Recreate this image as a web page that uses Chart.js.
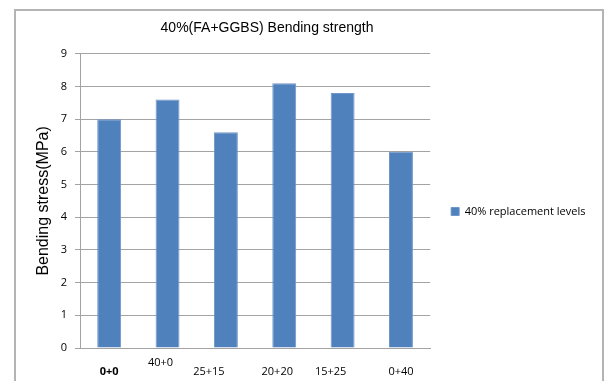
<!DOCTYPE html>
<html>
<head>
<meta charset="utf-8">
<script src="https://cdn.jsdelivr.net/npm/chart.js@4.4.1/dist/chart.umd.min.js"></script>
<style>
  html, body { margin: 0; padding: 0; background: #fff; overflow: hidden; }
  #wrap { position: relative; width: 604px; height: 381px; }
  #frame {
    position: absolute; left: 14px; top: 9px; width: 586px; height: 400px;
    border: 2px solid #b4b4b4; pointer-events: none;
  }
</style>
</head>
<body>
<div id="wrap">
  <canvas id="bendChart" width="604" height="381"></canvas>
  <div id="frame"></div>
</div>
<script>
// FA + GGBS mix proportions (%) and bending strength results
const mixes = ['0+0', '40+0', '25+15', '20+20', '15+25', '0+40'];
const bendingStress = [7.0, 7.6, 6.6, 8.1, 7.8, 6.0];
const yTicks = [0, 1, 2, 3, 4, 5, 6, 7, 8, 9];
const seriesName = '40% replacement levels';

// small nudges for the category labels (dx, dy)
const labelNudge = [[0, 0], [-7, -9], [-17, 0], [-7, 0], [-12, 0], [0, 0]];

const gridGray = '#a3a3a3';
const smallFont = '"Open Sans"';
const legendPad = 21;

// legend width decides where the plot ends, so measure the label first
const meas = document.createElement('canvas').getContext('2d');
meas.font = '11px ' + smallFont;
const legendW = legendPad + 8 + 5.5 + meas.measureText(seriesName).width;
const padRight = 166 - legendW;      // plot right edge lands at 431
const padLeft = padRight - 70;       // keeps the title a bit right of centre

// category labels drawn under the axis
const mixLabels = {
  id: 'mixLabels',
  afterDraw(chart) {
    const ctx = chart.ctx;
    const x = chart.scales.x;
    ctx.save();
    ctx.textAlign = 'center';
    ctx.textBaseline = 'middle';
    ctx.fillStyle = '#000';
    mixes.forEach((lab, i) => {
      ctx.font = (i === 0 ? 'bold ' : '') + '11px ' + smallFont;
      ctx.fillText(lab, x.getPixelForTick(i) + labelNudge[i][0], x.top + 24 + labelNudge[i][1]);
    });
    ctx.restore();
  }
};

const ctx = document.getElementById('bendChart').getContext('2d');
const bendChart = new Chart(ctx, {
  type: 'bar',
  data: {
    labels: mixes,
    datasets: [{
      label: seriesName,
      data: bendingStress,
      backgroundColor: '#4f81bd',
      borderColor: '#6f96c9',
      borderWidth: 1,
      barPercentage: 0.41,
      categoryPercentage: 1
    }]
  },
  options: {
    responsive: false,
    animation: false,
    layout: { padding: { left: padLeft, right: padRight, top: 0, bottom: 0 } },
    plugins: {
      title: {
        display: true,
        text: '40%(FA+GGBS) Bending strength',
        color: '#000',
        font: { family: '"Liberation Sans", Arial', size: 14, weight: 'normal' },
        padding: { top: 20, bottom: 17 }
      },
      legend: {
        position: 'right',
        title: { display: true, text: '', font: { size: 10 }, padding: 15 },
        labels: {
          boxWidth: 8,
          boxHeight: 8,
          padding: legendPad,
          color: '#000',
          font: { family: smallFont, size: 11 }
        }
      },
      tooltip: { enabled: false }
    },
    scales: {
      x: {
        grid: { display: true, drawOnChartArea: false, drawTicks: false },
        border: { color: gridGray, width: 1 },
        ticks: { display: false },
        afterFit: s => { s.height = 33; }
      },
      y: {
        min: 0,
        max: 9,
        afterBuildTicks: s => { s.ticks = yTicks.map(v => ({ value: v })); },
        grid: { color: gridGray, tickLength: 5, lineWidth: 1 },
        border: { color: gridGray, width: 1 },
        ticks: {
          color: '#000',
          padding: 8,
          font: { family: smallFont, size: 11 }
        },
        title: {
          display: true,
          text: 'Bending stress(MPa)',
          color: '#000',
          font: { family: '"Liberation Sans", Arial', size: 16 },
          padding: { top: 34 - padLeft, bottom: 0 }
        },
        afterFit: s => { s.width = 80 - padLeft; }
      }
    }
  },
  plugins: [mixLabels]
});
</script>
</body>
</html>
